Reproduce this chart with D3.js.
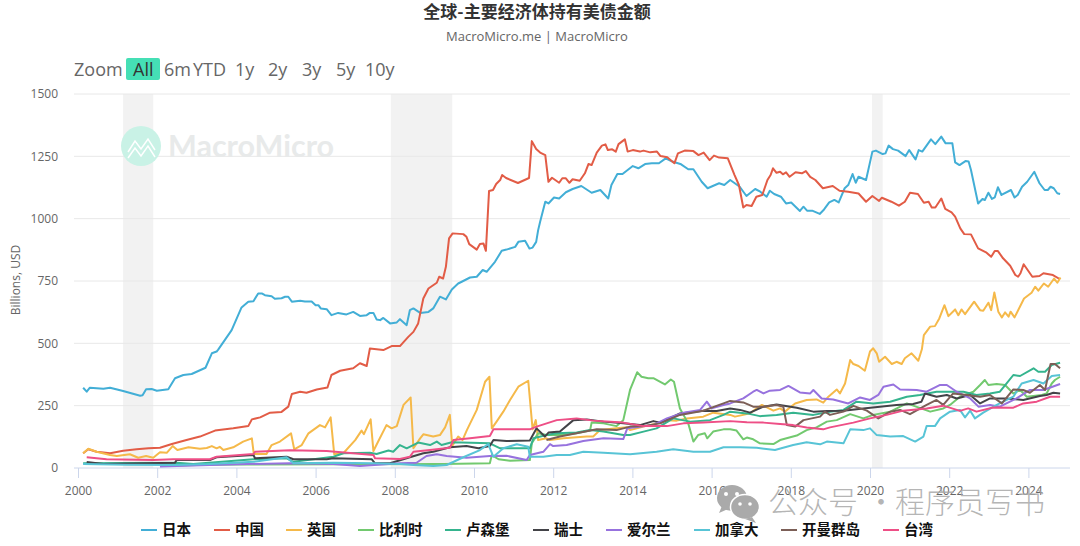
<!DOCTYPE html>
<html>
<head>
<meta charset="utf-8">
<script src="https://cdn.jsdelivr.net/npm/d3@7"></script>
<style>
    body { margin: 0; background: #fff; }
    text { font-family: "Open Sans", sans-serif; }
    .cjk { font-family: "Noto Sans CJK SC", sans-serif; }
    .domain { display: none; }
</style>
</head>
<body>
<div id="chart"></div>
<script>
// [decimal year, billions USD]
const japan = [[2000.13,322],[2000.22,306],[2000.3,322],[2000.64,318],[2000.81,322],[2001.14,309],[2001.57,290],[2001.63,292],[2001.72,316],[2001.86,317],[2001.99,310],[2002.28,316],[2002.45,360],[2002.66,373],[2002.87,377],[2003.22,402],[2003.38,460],[2003.5,467],[2003.54,475],[2003.88,553],[2004.13,644],[2004.3,667],[2004.43,669],[2004.55,700],[2004.64,700],[2004.72,693],[2004.89,689],[2004.97,679],[2005.14,681],[2005.23,687],[2005.31,687],[2005.4,667],[2005.61,671],[2005.73,668],[2005.9,668],[2006,653],[2006.07,653],[2006.13,640],[2006.28,637],[2006.4,613],[2006.57,622],[2006.78,616],[2006.95,626],[2007.12,610],[2007.29,613],[2007.37,622],[2007.46,622],[2007.54,596],[2007.63,593],[2007.71,602],[2007.88,580],[2008.05,584],[2008.13,597],[2008.3,573],[2008.38,633],[2008.47,640],[2008.64,622],[2008.85,626],[2008.97,640],[2009.14,687],[2009.29,676],[2009.44,716],[2009.6,740],[2009.69,747],[2009.9,764],[2010.07,767],[2010.22,794],[2010.32,787],[2010.53,827],[2010.7,871],[2010.82,876],[2011.04,887],[2011.12,907],[2011.29,911],[2011.4,880],[2011.48,884],[2011.57,907],[2011.62,954],[2011.67,988],[2011.8,1068],[2011.88,1061],[2012.02,1085],[2012.15,1081],[2012.32,1106],[2012.49,1119],[2012.71,1131],[2012.97,1104],[2013.19,1115],[2013.39,1081],[2013.47,1135],[2013.62,1179],[2013.75,1179],[2014.01,1211],[2014.15,1202],[2014.32,1219],[2014.49,1222],[2014.67,1222],[2014.84,1242],[2015.01,1229],[2015.23,1218],[2015.41,1198],[2015.54,1198],[2015.75,1148],[2015.9,1122],[2016.19,1142],[2016.32,1135],[2016.47,1155],[2016.71,1128],[2016.88,1091],[2017.1,1119],[2017.23,1108],[2017.39,1088],[2017.47,1112],[2017.58,1099],[2017.75,1088],[2017.88,1061],[2018.01,1065],[2018.23,1031],[2018.32,1048],[2018.41,1032],[2018.54,1032],[2018.73,1019],[2018.84,1037],[2018.97,1065],[2019.1,1075],[2019.21,1065],[2019.36,1122],[2019.45,1135],[2019.56,1179],[2019.64,1144],[2019.71,1168],[2019.9,1155],[2020.06,1269],[2020.15,1273],[2020.32,1259],[2020.39,1262],[2020.47,1293],[2020.58,1279],[2020.71,1273],[2020.9,1251],[2020.99,1275],[2021.15,1238],[2021.23,1275],[2021.32,1269],[2021.54,1318],[2021.65,1299],[2021.8,1329],[2021.91,1302],[2022.08,1302],[2022.15,1226],[2022.26,1215],[2022.41,1231],[2022.49,1229],[2022.55,1195],[2022.73,1061],[2022.84,1079],[2022.9,1075],[2022.99,1104],[2023.08,1079],[2023.15,1085],[2023.23,1126],[2023.32,1095],[2023.56,1115],[2023.65,1085],[2023.73,1095],[2023.84,1128],[2023.97,1148],[2024.15,1188],[2024.28,1142],[2024.41,1115],[2024.49,1115],[2024.56,1128],[2024.64,1122],[2024.73,1102],[2024.8,1099]];
const china = [[2000.13,59],[2000.26,75],[2000.47,65],[2000.81,59],[2001.14,69],[2001.48,75],[2001.78,79],[2002.07,81],[2002.37,96],[2002.74,112],[2003.08,126],[2003.46,150],[2003.92,159],[2004.3,168],[2004.39,195],[2004.6,203],[2004.85,222],[2005.14,225],[2005.31,246],[2005.4,297],[2005.61,306],[2005.77,302],[2006.03,315],[2006.3,323],[2006.4,373],[2006.62,390],[2006.95,400],[2007.12,420],[2007.29,409],[2007.37,479],[2007.71,473],[2007.92,489],[2008.13,489],[2008.34,526],[2008.47,546],[2008.59,580],[2008.72,680],[2008.85,720],[2009.06,743],[2009.12,767],[2009.22,760],[2009.29,807],[2009.37,921],[2009.46,941],[2009.73,938],[2009.81,927],[2009.88,898],[2010.07,876],[2010.15,898],[2010.24,900],[2010.3,871],[2010.38,1111],[2010.48,1115],[2010.56,1139],[2010.66,1155],[2010.71,1175],[2010.81,1163],[2011.11,1143],[2011.39,1163],[2011.46,1311],[2011.57,1279],[2011.67,1265],[2011.8,1255],[2011.88,1148],[2011.97,1164],[2012.15,1144],[2012.23,1162],[2012.32,1162],[2012.41,1144],[2012.49,1158],[2012.67,1152],[2012.8,1182],[2012.89,1219],[2012.97,1215],[2013.1,1265],[2013.23,1293],[2013.32,1298],[2013.38,1275],[2013.49,1278],[2013.58,1269],[2013.65,1299],[2013.81,1318],[2013.88,1269],[2014.01,1275],[2014.19,1269],[2014.28,1273],[2014.45,1266],[2014.62,1269],[2014.71,1251],[2014.88,1246],[2015.06,1222],[2015.15,1262],[2015.32,1273],[2015.54,1271],[2015.67,1255],[2015.8,1265],[2015.95,1235],[2016.06,1253],[2016.19,1245],[2016.41,1242],[2016.58,1175],[2016.69,1135],[2016.8,1045],[2016.88,1055],[2017.01,1051],[2017.13,1088],[2017.28,1095],[2017.41,1155],[2017.49,1175],[2017.55,1202],[2017.64,1184],[2017.73,1188],[2017.8,1178],[2017.88,1186],[2017.97,1168],[2018.12,1186],[2018.28,1182],[2018.38,1191],[2018.49,1168],[2018.62,1155],[2018.81,1122],[2019.06,1131],[2019.23,1112],[2019.45,1108],[2019.71,1101],[2019.9,1068],[2020.06,1091],[2020.23,1071],[2020.3,1084],[2020.54,1068],[2020.73,1052],[2020.88,1068],[2021.01,1104],[2021.21,1099],[2021.36,1064],[2021.48,1068],[2021.56,1045],[2021.65,1045],[2021.8,1081],[2021.9,1039],[2022.06,1025],[2022.15,1008],[2022.28,961],[2022.38,938],[2022.55,937],[2022.73,881],[2022.93,865],[2023.06,847],[2023.15,870],[2023.23,870],[2023.36,841],[2023.54,811],[2023.67,774],[2023.74,767],[2023.8,781],[2023.88,817],[2024.1,767],[2024.28,770],[2024.38,781],[2024.62,774],[2024.8,757]];
const uk = [[2000.13,59],[2000.26,77],[2000.47,65],[2000.81,52],[2000.98,48],[2001.31,55],[2001.52,41],[2001.72,48],[2001.9,41],[2002.07,63],[2002.24,61],[2002.39,88],[2002.51,72],[2002.79,83],[2003.08,77],[2003.25,80],[2003.38,88],[2003.5,79],[2003.58,85],[2003.67,72],[2003.92,83],[2004.17,106],[2004.39,119],[2004.44,56],[2004.76,56],[2004.89,92],[2005.1,106],[2005.38,139],[2005.46,75],[2005.65,92],[2005.82,139],[2006.11,172],[2006.24,163],[2006.38,203],[2006.47,56],[2006.7,59],[2007,112],[2007.16,150],[2007.22,136],[2007.39,195],[2007.46,68],[2007.58,106],[2007.79,172],[2007.92,159],[2008.05,168],[2008.22,253],[2008.4,283],[2008.47,79],[2008.64,119],[2008.72,135],[2008.97,126],[2009.14,132],[2009.27,163],[2009.39,213],[2009.45,88],[2009.6,126],[2009.71,112],[2009.82,152],[2010.07,233],[2010.28,346],[2010.39,366],[2010.45,159],[2010.57,186],[2010.74,226],[2010.91,273],[2011.12,326],[2011.37,350],[2011.48,155],[2011.56,192],[2011.62,112],[2011.83,119],[2011.92,112],[2012.26,119],[2012.85,126],[2013.01,126],[2013.18,152],[2013.6,159],[2013.86,163],[2013.94,152],[2014.28,166],[2014.61,179],[2014.87,192],[2015.12,190],[2015.37,199],[2015.79,206],[2016.04,222],[2016.47,213],[2016.59,206],[2016.8,213],[2016.97,219],[2017.14,239],[2017.27,253],[2017.56,230],[2017.73,239],[2017.85,226],[2018.11,259],[2018.4,273],[2018.65,275],[2018.82,262],[2018.95,286],[2019.16,315],[2019.24,299],[2019.37,339],[2019.5,433],[2019.58,417],[2019.71,409],[2019.87,390],[2020,467],[2020.08,480],[2020.17,460],[2020.23,426],[2020.38,446],[2020.55,417],[2020.67,426],[2020.8,417],[2020.88,440],[2021.05,460],[2021.22,430],[2021.31,476],[2021.36,533],[2021.52,567],[2021.64,569],[2021.75,600],[2021.88,653],[2021.98,609],[2022.15,636],[2022.23,613],[2022.31,636],[2022.4,617],[2022.63,667],[2022.78,633],[2022.86,631],[2022.99,663],[2023.06,633],[2023.14,704],[2023.24,627],[2023.33,604],[2023.41,624],[2023.5,607],[2023.55,627],[2023.65,604],[2023.89,680],[2024.08,703],[2024.17,727],[2024.25,711],[2024.39,740],[2024.5,727],[2024.65,760],[2024.73,743],[2024.81,764]];
const belgium = [[2002.1,8],[2003,12],[2004,14],[2009.23,16],[2010.4,19],[2010.45,52],[2010.62,35],[2010.91,29],[2011.41,32],[2011.46,99],[2011.54,119],[2011.62,139],[2011.83,132],[2012.26,132],[2012.59,139],[2012.93,150],[2012.97,182],[2013.27,179],[2013.6,168],[2013.77,192],[2013.94,313],[2014.12,384],[2014.23,366],[2014.4,360],[2014.53,360],[2014.82,335],[2014.97,355],[2015.05,346],[2015.2,239],[2015.41,179],[2015.54,106],[2015.66,132],[2015.83,139],[2015.89,119],[2016.04,146],[2016.3,155],[2016.47,155],[2016.63,150],[2016.8,115],[2016.89,122],[2017.05,115],[2017.22,99],[2017.56,96],[2017.73,112],[2018.15,130],[2018.4,152],[2018.65,163],[2018.91,186],[2019.16,192],[2019.5,216],[2019.83,199],[2020.08,213],[2020.51,226],[2020.93,259],[2021.52,226],[2021.85,239],[2022.02,253],[2022.27,286],[2022.61,306],[2022.78,333],[2022.9,353],[2022.99,333],[2023.2,337],[2023.41,333],[2023.62,299],[2023.79,313],[2023.96,286],[2024.34,293],[2024.46,299],[2024.59,339],[2024.67,353],[2024.8,366]];
const luxembourg = [[2000.13,19],[2002.49,21],[2002.91,16],[2004.43,35],[2005.27,39],[2005.44,25],[2006.45,45],[2006.7,59],[2007.37,61],[2007.54,56],[2007.84,70],[2007.96,65],[2008.13,92],[2008.3,79],[2008.59,102],[2008.89,92],[2009.06,106],[2009.18,92],[2009.44,103],[2010.4,99],[2010.66,79],[2011.41,79],[2011.5,119],[2011.83,132],[2012.09,139],[2012.59,142],[2012.93,152],[2013.27,146],[2013.77,132],[2013.94,132],[2014.28,146],[2014.61,159],[2015.03,199],[2015.46,186],[2015.96,192],[2016.3,213],[2016.47,226],[2016.89,219],[2017.22,208],[2017.64,213],[2018.06,222],[2018.57,213],[2018.99,226],[2019.33,233],[2019.66,266],[2020.08,259],[2020.51,266],[2020.93,286],[2021.26,293],[2021.68,306],[2022.02,306],[2022.36,306],[2022.69,293],[2023.03,299],[2023.28,306],[2023.45,339],[2023.62,373],[2023.79,369],[2024.13,400],[2024.25,386],[2024.42,386],[2024.59,413],[2024.8,422]];
const switzerland = [[2000.22,24],[2000.64,16],[2002.45,21],[2002.49,32],[2003.33,32],[2003.5,43],[2004.43,52],[2004.47,39],[2005.27,45],[2005.44,35],[2006.28,35],[2006.45,39],[2007.42,35],[2007.5,19],[2007.88,19],[2008.38,43],[2008.72,59],[2008.97,65],[2009.39,83],[2009.81,88],[2010.11,79],[2010.4,88],[2010.49,112],[2010.82,108],[2011.41,110],[2011.58,159],[2011.79,126],[2011.88,142],[2012.17,146],[2012.51,192],[2012.85,195],[2013.27,186],[2013.77,179],[2014.19,172],[2014.53,188],[2014.7,182],[2015.2,219],[2015.79,230],[2016.13,229],[2016.47,239],[2016.72,233],[2016.97,222],[2017.31,246],[2017.64,255],[2018.15,242],[2018.57,226],[2018.91,229],[2019.33,230],[2019.83,239],[2020.25,246],[2020.67,253],[2021.09,257],[2021.3,266],[2021.39,299],[2021.68,286],[2021.94,293],[2022.19,279],[2022.53,293],[2022.78,259],[2023.03,279],[2023.45,279],[2023.87,273],[2024.29,289],[2024.46,293],[2024.63,302],[2024.8,299]];
const ireland = [[2002.07,6],[2003.33,12],[2004.26,16],[2005.35,19],[2006.45,16],[2007.12,8],[2008.13,19],[2008.55,21],[2008.8,48],[2009.06,55],[2009.31,48],[2009.81,41],[2010.4,48],[2010.82,49],[2011.33,32],[2011.41,52],[2011.75,65],[2011.92,96],[2012,88],[2012.34,92],[2012.76,108],[2013.27,119],[2013.77,116],[2013.87,159],[2014.53,172],[2014.87,199],[2015.29,222],[2015.71,233],[2015.88,266],[2016,239],[2016.3,253],[2016.47,259],[2016.8,279],[2017.05,306],[2017.14,313],[2017.31,299],[2017.47,310],[2017.73,313],[2017.94,329],[2018.23,303],[2018.49,299],[2018.57,313],[2018.78,279],[2019.07,275],[2019.45,259],[2019.75,283],[2020,273],[2020.21,293],[2020.34,326],[2020.59,335],[2020.76,315],[2021.18,313],[2021.43,306],[2021.77,333],[2021.94,333],[2022.19,306],[2022.53,279],[2022.74,246],[2023.03,253],[2023.28,246],[2023.7,279],[2024.04,313],[2024.38,313],[2024.8,337]];
const canada = [[2000.13,16],[2001.23,13],[2002.45,12],[2003.33,16],[2004.43,25],[2005.27,43],[2005.44,19],[2006.45,21],[2007.46,19],[2008.13,16],[2008.47,12],[2008.97,8],[2009.31,12],[2009.73,43],[2010.15,72],[2010.36,96],[2010.49,45],[2010.74,79],[2011.08,95],[2011.37,85],[2011.41,45],[2011.75,45],[2012.09,52],[2012.42,52],[2012.76,65],[2013.27,61],[2013.94,55],[2014.61,65],[2015.03,75],[2015.54,65],[2015.96,65],[2016.3,83],[2016.72,83],[2017.14,81],[2017.6,72],[2018.06,92],[2018.4,103],[2018.74,95],[2018.91,106],[2019.33,99],[2019.5,155],[2019.83,152],[2020,159],[2020.17,132],[2020.51,126],[2020.84,128],[2021.14,106],[2021.35,126],[2021.43,168],[2021.64,168],[2021.77,199],[2022.02,226],[2022.27,233],[2022.4,203],[2022.53,230],[2022.65,199],[2022.86,222],[2023.2,253],[2023.62,286],[2023.83,339],[2024.13,353],[2024.38,339],[2024.59,369],[2024.8,373]];
const cayman = [[2011.83,112],[2012.17,126],[2012.68,142],[2013.1,155],[2013.6,152],[2013.94,166],[2014.28,168],[2014.7,179],[2015.2,213],[2015.79,230],[2016.3,259],[2016.47,269],[2016.8,263],[2017.05,246],[2017.31,246],[2017.64,253],[2017.81,246],[2017.9,172],[2018.11,166],[2018.32,192],[2018.74,206],[2018.86,226],[2018.99,213],[2019.33,226],[2019.58,249],[2019.92,230],[2020.21,199],[2020.51,226],[2020.76,233],[2021.01,216],[2021.43,253],[2021.68,273],[2021.85,253],[2022.1,299],[2022.44,293],[2022.78,286],[2023.03,293],[2023.33,259],[2023.62,315],[2023.87,313],[2024.04,302],[2024.29,333],[2024.42,313],[2024.56,417],[2024.67,417],[2024.8,400]];
const taiwan = [[2000.22,43],[2000.72,35],[2001.9,32],[2002.4,35],[2003.33,35],[2003.5,45],[2004.43,56],[2004.47,65],[2005.35,71],[2006.28,68],[2007.46,52],[2007.5,39],[2008.13,36],[2008.38,45],[2008.47,65],[2008.89,72],[2009.39,81],[2009.48,112],[2009.9,119],[2010.4,128],[2010.49,155],[2011.41,155],[2011.58,166],[2012.09,192],[2012.59,199],[2013.01,190],[2013.77,182],[2014.28,168],[2014.87,168],[2015.29,179],[2015.79,182],[2016.47,188],[2016.89,183],[2017.31,182],[2017.73,176],[2018.06,172],[2018.4,162],[2018.82,155],[2018.99,163],[2019.58,182],[2020,199],[2020.42,213],[2020.84,230],[2021.43,239],[2021.85,250],[2022.27,229],[2022.48,239],[2022.69,226],[2023.11,243],[2023.62,242],[2023.87,259],[2024.21,266],[2024.55,286],[2024.8,286]];

const seriesNames = ['日本', '中国', '英国', '比利时', '卢森堡', '瑞士', '爱尔兰', '加拿大', '开曼群岛', '台湾'];
const seriesValues = [japan, china, uk, belgium, luxembourg, switzerland, ireland, canada, cayman, taiwan];
const seriesColors = ['#42aed6', '#e25c46', '#f5b94a', '#72c96f', '#35b48e', '#434348', '#9772de', '#58c4d6', '#7c5f57', '#ee4f86'];
const legendX = [141, 214, 286, 358, 445, 533, 606, 694, 781, 883];

const recessions = [[2001.14, 2001.9], [2007.9, 2009.45], [2020.05, 2020.32]];
const yTicks = [0, 250, 500, 750, 1000, 1250, 1500];
const xTicks = d3.range(2000, 2025, 2);
const rangeLabels = [['6m', 164], ['YTD', 193], ['1y', 235], ['2y', 268], ['3y', 302], ['5y', 336], ['10y', 365]];

const width = 1080, height = 546;
const svg = d3.select('#chart').append('svg')
    .attr('width', width)
    .attr('height', height)
    .style('display', 'block');

const x = d3.scaleLinear().domain([2000, 2025]).range([78, 1068]);
const y = d3.scaleLinear().domain([0, 1500]).range([468, 94]);

// title block
svg.append('text').attr('class', 'cjk')
    .attr('x', 537).attr('y', 18)
    .attr('text-anchor', 'middle')
    .attr('font-size', 17).attr('font-weight', 700).attr('fill', '#333')
    .text('全球-主要经济体持有美债金额');
svg.append('text')
    .attr('x', 537).attr('y', 41)
    .attr('text-anchor', 'middle')
    .attr('font-size', 13).attr('fill', '#666')
    .text('MacroMicro.me | MacroMicro');

// range selector
svg.append('text').attr('x', 74).attr('y', 76).attr('font-size', 18).attr('fill', '#666').text('Zoom');
svg.append('rect').attr('x', 126).attr('y', 58).attr('width', 34).attr('height', 22).attr('rx', 2).attr('fill', '#45dfb5');
svg.append('text').attr('x', 133).attr('y', 76).attr('font-size', 18).attr('fill', '#333').text('All');
svg.selectAll('.range').data(rangeLabels).enter().append('text')
    .attr('class', 'range')
    .attr('x', d => d[1]).attr('y', 76)
    .attr('font-size', 18).attr('fill', '#666')
    .text(d => d[0]);

// recession bands
svg.append('g').selectAll('rect').data(recessions).enter().append('rect')
    .attr('x', d => x(d[0]))
    .attr('y', y(1500))
    .attr('width', d => x(d[1]) - x(d[0]))
    .attr('height', y(0) - y(1500))
    .attr('fill', '#f2f2f2');

// y axis + gridlines
const yAxis = svg.append('g')
    .attr('transform', 'translate(74,0)')
    .call(d3.axisLeft(y).tickValues(yTicks).tickSize(0).tickPadding(16).tickFormat(d3.format('d')));
yAxis.selectAll('text').attr('font-size', 12).attr('fill', '#666').style('font-family', '"Open Sans", sans-serif');
svg.append('g').selectAll('line').data(yTicks.slice(1)).enter().append('line')
    .attr('x1', 74).attr('x2', 1070)
    .attr('y1', d => y(d)).attr('y2', d => y(d))
    .attr('stroke', '#e8e8e8');

svg.append('text')
    .attr('transform', 'translate(20,280) rotate(-90)')
    .attr('text-anchor', 'middle')
    .attr('font-size', 12).attr('fill', '#666')
    .text('Billions, USD');

// x axis
const xAxis = svg.append('g')
    .attr('transform', `translate(0,${y(0)})`)
    .call(d3.axisBottom(x).tickValues(xTicks).tickSize(10).tickPadding(8).tickFormat(d3.format('d')));
xAxis.selectAll('text').attr('font-size', 12).attr('fill', '#666').style('font-family', '"Open Sans", sans-serif');
xAxis.selectAll('line').attr('stroke', '#ccd6eb');
svg.append('line').attr('x1', 74).attr('x2', 1070).attr('y1', y(0)).attr('y2', y(0)).attr('stroke', '#ccd6eb');

// MacroMicro watermark sits under the lines
const brand = svg.append('g');
brand.append('circle').attr('cx', 141).attr('cy', 146).attr('r', 20).attr('fill', '#c9f2e6');
brand.append('path')
    .attr('d', 'M128,152 L135,141 L141,149 L148,139 L155,150 M128,158 L135,148 L141,156 L148,146 L155,157')
    .attr('fill', 'none').attr('stroke', '#fff').attr('stroke-width', 1.5);
brand.append('text')
    .attr('x', 168).attr('y', 157)
    .attr('font-size', 30.5).attr('font-weight', 700).attr('fill', '#e8eaea')
    .style('font-family', 'Lato, sans-serif')
    .text('MacroMicro');

// lines
const line = d3.line().x(d => x(d[0])).y(d => y(d[1]));
svg.append('g').selectAll('path').data(seriesValues).enter().append('path')
    .attr('d', line)
    .attr('fill', 'none')
    .attr('stroke', (d, i) => seriesColors[i])
    .attr('stroke-width', 2)
    .attr('stroke-linejoin', 'round');

// legend
const legend = svg.append('g').selectAll('g').data(seriesNames).enter().append('g')
    .attr('transform', (d, i) => `translate(${legendX[i]},530)`);
legend.append('line')
    .attr('x1', 0).attr('x2', 16)
    .attr('stroke', (d, i) => seriesColors[i])
    .attr('stroke-width', 2);
legend.append('text').attr('class', 'cjk')
    .attr('x', 21).attr('y', 5)
    .attr('font-size', 14.5).attr('font-weight', 700).attr('fill', '#111')
    .text(d => d);

// wechat account watermark, painted over the axis labels
const wm = svg.append('g');
wm.append('ellipse').attr('cx', 732).attr('cy', 498).attr('rx', 15).attr('ry', 13).attr('fill', '#aaa');
wm.append('path').attr('d', 'M722,506 L719,513 L728,509 Z').attr('fill', '#aaa');
wm.append('ellipse').attr('cx', 745).attr('cy', 507).attr('rx', 14.5).attr('ry', 12.5).attr('fill', '#aaa').attr('stroke', '#fff').attr('stroke-width', 1.5);
wm.append('path').attr('d', 'M752,517 L756,523 L745,519 Z').attr('fill', '#aaa');
wm.selectAll('circle').data([[726, 494, 2], [737, 494, 2], [740, 504, 1.8], [750, 504, 1.8]]).enter().append('circle')
    .attr('cx', d => d[0]).attr('cy', d => d[1]).attr('r', d => d[2]).attr('fill', '#fff');
const wmText = wm.append('text').attr('class', 'cjk')
    .attr('y', 513)
    .attr('font-size', 30).attr('font-weight', 300)
    .attr('fill', '#a8a8a8').attr('fill-opacity', 0.85);
wmText.append('tspan').attr('x', 768).text('公众号');
wmText.append('tspan').attr('x', 866).text('·');
wmText.append('tspan').attr('x', 895).text('程序员写书');
</script>
</body>
</html>
